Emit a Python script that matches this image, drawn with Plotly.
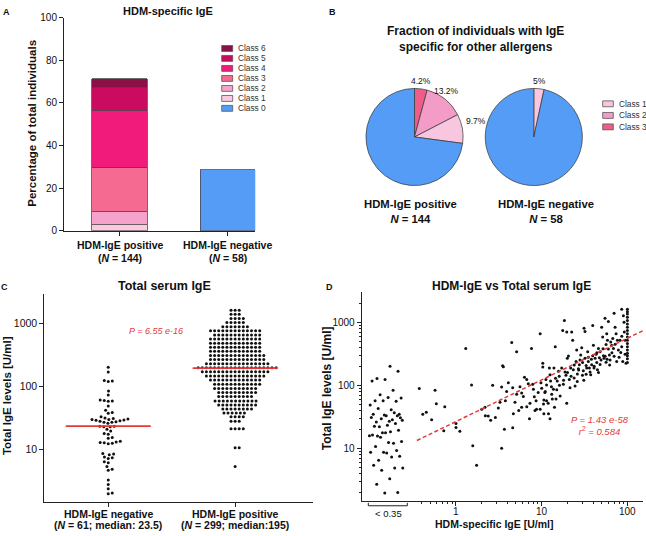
import math
import numpy as np
import plotly.graph_objects as go

W, H = 646, 536

# ---------------- DATA ----------------
# Panel A: HDM-specific IgE classes (% of total individuals)
a_cat_line1 = ["HDM-IgE positive", "HDM-IgE negative"]
a_cat_line2 = ["(<i>N</i> = 144)", "(<i>N</i> = 58)"]
a_class_names = ["Class 1", "Class 2", "Class 3", "Class 4", "Class 5", "Class 6"]
a_pos_class_pct = [2.8, 6.1, 20.9, 26.6, 10.8, 4.1]
a_neg_class0_pct = [28.7]
a_yticks = [0, 20, 40, 60, 80, 100]

# Panel B: IgE specific for other allergens
b_pos_labels = ["Class 3", "Class 2", "Class 1", "Class 0"]
b_pos_values = [4.2, 13.2, 9.7, 72.9]
b_pos_text = ["4.2%", "13.2%", "9.7%", ""]
b_neg_labels = ["Class 1", "Class 0"]
b_neg_values = [3.4, 96.6]
b_neg_text = ["5%", ""]
b_captions = ["HDM-IgE positive<br><i>N</i> = 144", "HDM-IgE negative<br><i>N</i> = 58"]

# Panel C: total serum IgE [U/ml]
c_cat_line1 = ["HDM-IgE negative", "HDM-IgE positive"]
c_cat_line2 = ["(<i>N</i> = 61; median: 23.5)", "(<i>N</i> = 299; median:195)"]
c_neg_values = [201, 169, 124, 122, 120, 84.5, 73, 61, 60, 59, 58, 49, 42, 38.5, 37.5, 33,
                31.5, 31, 30.5, 30, 30, 29.5, 29, 28.5, 28, 27.5, 27, 27, 26, 23.5, 23.5, 23,
                23, 21, 19.7, 17.9, 17.5, 15.5, 15.1, 13.5, 13.2, 13, 12.8, 12.6, 12.4, 8.7,
                8.5, 8.3, 7.6, 7.4, 7.2, 6.4, 6.2, 5.4, 4.9, 4.7, 3.3, 2.8, 2.4, 2.05, 2.0]
# positive group: value rows and number of individuals in each row
c_pos_levels = [1611, 1387, 1194, 1026, 883, 760, 654, 563, 484, 417, 359, 309, 266, 229,
                197, 170, 146, 126, 108, 93, 80, 69, 59, 51, 44, 38, 33, 28, 21.3, 10.7, 5.4]
c_pos_counts = [3, 3, 4, 5, 7, 13, 12, 13, 13, 13, 13, 14, 14, 16,
                20, 17, 15, 13, 12, 11, 10, 9, 11, 10, 8, 6, 4, 3, 4, 2, 1]
c_medians = [23.5, 195]
c_ptext = "<i>P = 6.55 e-16</i>"

# Panel D: HDM-specific IgE vs total IgE
d_pairs = [(0.373, 89), (0.41, 35), (0.45, 37.6), (0.57, 84), (0.59, 51), (0.52, 28.6),
           (0.74, 46), (0.72, 19), (1.0, 24.8), (1.0, 21.4), (1.11, 18.8), (1.3, 384),
           (1.52, 101), (1.57, 11), (1.74, 5.4), (2.0, 42), (2.18, 45), (2.2, 33),
           (2.38, 32.6), (2.54, 27.9), (2.68, 100), (2.88, 31), (3.12, 43.9), (3.26, 53.8),
           (3.41, 94), (3.5, 205), (3.57, 197), (3.41, 10.1), (3.67, 20.2), (3.77, 57),
           (3.9, 80), (4.08, 110), (4.47, 477), (4.59, 21.2), (4.67, 35.4), (4.88, 53.8),
           (5.1, 342), (5.4, 40), (5.58, 95), (5.84, 76), (6.1, 66.7), (6.3, 135),
           (6.7, 124), (6.7, 46), (6.98, 106), (7.3, 51.9), (7.2, 29.6), (7.6, 384),
           (7.85, 104), (8.0, 87), (8.2, 65.9), (8.6, 57), (8.7, 42), (9.1, 77),
           (9.6, 659), (9.8, 110), (10, 90), (10.3, 225), (10.3, 195), (10.5, 50.7),
           (10.6, 58.5), (10.9, 77), (11.2, 124), (11.4, 101), (11.4, 57), (11.9, 51.9),
           (12, 35.4), (12.3, 188), (12.5, 148), (12.7, 117), (13.1, 72.5), (13.3, 60.6),
           (13.7, 87), (13.9, 188), (14.1, 45), (14.4, 408), (14.7, 60.6), (15.2, 117),
           (15.7, 167), (16.1, 100), (16.4, 68), (17.1, 188), (17.6, 741), (17.9, 104),
           (18.4, 1062), (18.7, 163), (19.2, 145), (19.6, 700), (19.6, 51.9), (19.9, 269),
           (20.5, 292), (21, 124), (21.4, 92), (21.8, 188), (22.4, 700), (23, 519),
           (23.4, 177), (23.9, 131), (24.5, 98), (25.2, 239), (25.6, 363), (26.1, 152),
           (26.8, 184), (27.5, 212), (28, 253), (28.5, 303), (29.3, 394), (29.9, 145),
           (30.6, 171), (31.2, 807), (32, 716), (32, 269), (33, 207), (33.5, 188),
           (34.4, 342), (35, 239), (36, 188), (36.7, 163), (37.3, 148), (38.3, 212),
           (39.4, 887), (39.4, 296), (40.1, 434), (40.8, 188), (42, 269), (43.1, 311),
           (43.9, 231), (44.7, 177), (45.9, 384), (47.1, 275), (48, 342), (49.3, 253),
           (50.1, 836), (51.5, 585), (52.5, 296), (53.4, 269), (54.8, 1154), (56.4, 444),
           (56.4, 233), (57.4, 659), (58.5, 519), (60, 1024), (60, 376), (61.6, 303),
           (62.8, 253), (63.9, 489), (65.6, 434), (67.4, 551), (68.7, 384), (69.9, 1396),
           (71.8, 836), (73.8, 659), (75, 239), (76.4, 519), (78.5, 363), (82, 519),
           (83.6, 333), (85.9, 1610), (85.9, 408), (88.3, 239), (89.8, 1270), (91.4, 1000),
           (94, 519), (94, 311), (96.4, 225), (8.36, 40), (9.6, 42), (10.6, 35.4),
           (12.5, 29.6), (4.59, 92), (5.1, 72.5), (5.84, 45), (11, 80), (13, 95),
           (14.5, 130), (15, 85), (16, 140), (18, 120), (20, 160), (22, 140), (24, 210),
           (26, 115), (27, 175), (30, 230), (31, 120), (33, 150), (35, 280), (38, 260),
           (41, 200), (44, 330), (46, 160), (48, 215), (52, 380), (55, 290), (58, 260),
           (62, 210), (66, 330), (70, 290), (72, 450), (80, 280), (86, 600), (92, 700)]
d_capped_hdm = 100
d_capped_total = [1611, 1465, 1349, 1196, 1062, 942, 836, 742, 659, 585, 519, 460, 408,
                  363, 322, 296, 263, 231]
d_below_total = [200, 129, 167, 124, 117, 84, 71, 63, 64, 57, 56, 57, 49, 41, 43, 35, 33,
                 35, 36.7, 29.7, 28, 27, 26.3, 33, 34, 31, 28.6, 22, 30.7, 23.3, 22.5, 24.8,
                 17.7, 15.9, 18.4, 15.7, 19.5, 17.7, 16.3, 12.1, 15, 12.9, 12.4, 10.7, 9.3,
                 8.7, 8.7, 7.3, 6.5, 7.5, 8.5, 5.4, 4.9, 4.5, 4.9, 3.3, 2.7, 2.0, 1.97]
d_cutoff = 0.35
d_xticks = [1, 10, 100]
d_fit_slope = 0.66          # log10(total) per log10(HDM)
d_fit_intercept = 1.427     # log10(total) at HDM = 1 U/ml
d_stats_text = "<i>P = 1.43 e-58</i><br><i>r</i><sup>2</sup><i> = 0.584</i>"

# ---------------- STYLE ----------------
FONT = "Liberation Sans, Arial, Helvetica, sans-serif"
INK = "#111111"
AX = "#222222"
RED = "#E5383B"
BLUE = "#559CF6"
a_colors = ["#F9CAE1", "#F6A3CB", "#F46A90", "#F01B7B", "#CB0B5F", "#8B1046"]
b_colors = {"Class 0": BLUE, "Class 1": "#F8C6DF", "Class 2": "#F39CC8", "Class 3": "#EE5C8A"}
DOT = 3.0


def px(xp):
    return xp / W


def py(yp):
    return 1 - yp / H


# axis geometry (pixels)
A_X_DOM, A_X_RNG = (64, 255.2), (-0.514, 1.255)
A_Y_DOM = (230, 13)
C_X_DOM, C_X_RNG = (44.3, 313), (-0.504, 1.614)
C_Y_DOM, C_Y_RNG = (506, 295), (0.177, 3.455)
D_X_DOM, D_X_RNG = (361.7, 643), (-1.100, 2.182)
D_Y_DOM, D_Y_RNG = (505, 292.7), (0.174, 3.476)

fig = go.Figure()

# ---------------- Panel A ----------------
for name, val, col in zip(a_class_names, a_pos_class_pct, a_colors):
    fig.add_trace(go.Bar(x=[0], y=[val], name=name, width=0.51,
                         marker=dict(color=col, line=dict(color="#4a4a4a", width=0.8)),
                         xaxis="x", yaxis="y", showlegend=False))
fig.add_trace(go.Bar(x=[1], y=a_neg_class0_pct, name="Class 0", width=0.51,
                     marker=dict(color=BLUE, line=dict(color="#4a4a4a", width=0.8)),
                     xaxis="x", yaxis="y", showlegend=False))

# ---------------- Panel B (pies) ----------------
PIE_R = 49.5
pie_specs = [
    (b_pos_labels, b_pos_values, b_pos_text, (365, 464), (85, 184)),
    (b_neg_labels, b_neg_values, b_neg_text, (484.3, 583.3), (85, 184)),
]
annotations = []
for labels, values, texts, (x0, x1), (y0, y1) in pie_specs:
    fig.add_trace(go.Pie(labels=labels, values=values, sort=False, direction="clockwise",
                         rotation=0, textinfo="none", hoverinfo="label+percent",
                         marker=dict(colors=[b_colors[l] for l in labels],
                                     line=dict(color="#333333", width=0.7)),
                         domain=dict(x=[px(x0), px(x1)], y=[py(y1), py(y0)]),
                         showlegend=False))
    cx, cy = (x0 + x1) / 2, (y0 + y1) / 2
    total = float(sum(values))
    cum = 0.0
    for v, t in zip(values, texts):
        mid = (cum + v / 2) / total
        cum += v
        if not t:
            continue
        th = 2 * math.pi * mid
        lx = cx + (PIE_R + 1) * math.sin(th)
        ly = cy - (PIE_R + 1) * math.cos(th)
        annotations.append(dict(x=px(lx), y=py(ly), xref="paper", yref="paper", text=t,
                                showarrow=False, xanchor="left" if math.sin(th) > 0.9 else "center",
                                yanchor="bottom", font=dict(size=8.5, color=INK)))

# ---------------- Panel C (beeswarm) ----------------
c_xpx = (C_X_DOM[1] - C_X_DOM[0]) / (C_X_RNG[1] - C_X_RNG[0])
c_ypx = (C_Y_DOM[0] - C_Y_DOM[1]) / (C_Y_RNG[1] - C_Y_RNG[0])


def beeswarm(vals, ypx, d):
    vals = np.asarray(vals, dtype=float)
    ys = np.log10(vals) * ypx
    order = np.argsort(vals, kind="stable")
    xs = np.zeros(len(vals))
    placed = []
    for idx in order:
        y = ys[idx]
        near = [(qx, qy) for (qx, qy) in placed if abs(qy - y) < d]
        cands = [0.0]
        for qx, qy in near:
            dx = math.sqrt(max(d * d - (qy - y) ** 2, 0.0))
            cands += [qx + dx, qx - dx]
        cands.sort(key=lambda c: (round(abs(c), 6), -c))
        for c in cands:
            if all((c - qx) ** 2 + (y - qy) ** 2 >= d * d - 1e-6 for qx, qy in near):
                xs[idx] = c
                break
        placed.append((xs[idx], y))
    return xs


c_pos_values = np.repeat(np.array(c_pos_levels, dtype=float), c_pos_counts)
for cat, vals in ((0, c_neg_values), (1, c_pos_values)):
    off = beeswarm(vals, c_ypx, 4.1)
    fig.add_trace(go.Scatter(x=cat + off / c_xpx, y=vals, mode="markers",
                             marker=dict(size=DOT, color=INK), xaxis="x3", yaxis="y3",
                             showlegend=False, hoverinfo="y"))
for cat, med in enumerate(c_medians):
    fig.add_trace(go.Scatter(x=[cat - 0.335, cat + 0.335], y=[med, med], mode="lines",
                             line=dict(color=RED, width=1.6), xaxis="x3", yaxis="y3",
                             showlegend=False, hoverinfo="skip"))

# ---------------- Panel D ----------------
d_hdm = [p[0] for p in d_pairs] + [d_capped_hdm] * len(d_capped_total)
d_tot = [p[1] for p in d_pairs] + d_capped_total
fig.add_trace(go.Scatter(x=d_hdm, y=d_tot, mode="markers", marker=dict(size=DOT, color=INK),
                         xaxis="x4", yaxis="y4", showlegend=False))
# strip for values below detection limit (spread horizontally inside the < 0.35 band)
lo, hi = -1.015, -0.618
strip_x = [10 ** (lo + (hi - lo) * (((i + 1) * 0.6180339887) % 1.0)) for i in range(len(d_below_total))]
fig.add_trace(go.Scatter(x=strip_x, y=d_below_total, mode="markers",
                         marker=dict(size=DOT, color=INK), xaxis="x4", yaxis="y4",
                         showlegend=False))
fit_x = [d_cutoff, 10 ** D_X_RNG[1]]
fit_y = [10 ** (d_fit_intercept + d_fit_slope * math.log10(v)) for v in fit_x]
fig.add_trace(go.Scatter(x=fit_x, y=fit_y, mode="lines",
                         line=dict(color=RED, width=1.5, dash="4px,2.5px"),
                         xaxis="x4", yaxis="y4", showlegend=False, hoverinfo="skip"))

# ---------------- Layout ----------------
axis_common = dict(showline=True, linecolor=AX, linewidth=1, ticks="outside", ticklen=4,
                   tickwidth=1, tickcolor=AX, showgrid=False, zeroline=False,
                   tickfont=dict(size=10, color=INK, family=FONT))
minor_style = dict(ticks="outside", ticklen=2, tickwidth=0.8, tickcolor=AX)

layout = dict(
    width=W, height=H, margin=dict(l=0, r=0, t=0, b=0, pad=0),
    paper_bgcolor="white", plot_bgcolor="rgba(0,0,0,0)", barmode="stack",
    showlegend=False, font=dict(family=FONT, color=INK),
    xaxis=dict(axis_common, domain=[px(A_X_DOM[0]), px(A_X_DOM[1])], range=list(A_X_RNG),
               tickvals=[0, 1], showticklabels=False, anchor="y"),
    yaxis=dict(axis_common, domain=[py(A_Y_DOM[0]), py(A_Y_DOM[1])], range=[0, 100],
               tickvals=a_yticks, anchor="x"),
    xaxis3=dict(axis_common, domain=[px(C_X_DOM[0]), px(C_X_DOM[1])], range=list(C_X_RNG),
                tickvals=[0, 1], showticklabels=False, anchor="y3"),
    yaxis3=dict(axis_common, type="log", domain=[py(C_Y_DOM[0]), py(C_Y_DOM[1])],
                range=list(C_Y_RNG), tickvals=[10, 100, 1000], ticktext=["10", "100", "1000"],
                anchor="x3", tickfont=dict(size=10.5, color=INK, family=FONT)),
    xaxis4=dict(axis_common, type="log", domain=[px(D_X_DOM[0]), px(D_X_DOM[1])],
                range=list(D_X_RNG), tickvals=d_xticks, showticklabels=False,
                anchor="y4",
                minor=dict(minor_style, tickvals=[0.4, 0.5, 0.6, 0.7, 0.8, 0.9, 2, 3, 4, 5, 6, 7, 8, 9,
                                                  20, 30, 40, 50, 60, 70, 80, 90])),
    yaxis4=dict(axis_common, type="log", domain=[py(D_Y_DOM[0]), py(D_Y_DOM[1])],
                range=list(D_Y_RNG), tickvals=[10, 100, 1000], ticktext=["10", "100", "1000"],
                anchor="x4",
                minor=dict(minor_style, tickvals=[2, 3, 4, 5, 6, 7, 8, 9, 20, 30, 40, 50, 60, 70, 80, 90,
                                                  200, 300, 400, 500, 600, 700, 800, 900, 2000])),
)

shapes = []
# dotted cut-off line in D
shapes.append(dict(type="line", xref="x4", yref="y4 domain", x0=math.log10(d_cutoff),
                   x1=math.log10(d_cutoff), y0=0, y1=1,
                   line=dict(color="#444444", width=1, dash="dot")))
# bracket under "< 0.35"
shapes.append(dict(type="path", xref="paper", yref="paper",
                   path="M {a},{b} L {a},{c} L {d},{c} L {d},{b}".format(
                       a=px(368.3), b=py(507.3), c=py(510.3), d=px(407.3)),
                   line=dict(color=AX, width=1)))


# manual legends
def legend_block(names, colors, box_x, ys, text_x, fsize):
    for n, c, yc in zip(names, colors, ys):
        shapes.append(dict(type="rect", xref="paper", yref="paper",
                           x0=px(box_x[0]), x1=px(box_x[1]), y0=py(yc + 3), y1=py(yc - 3),
                           fillcolor=c, line=dict(color="#555555", width=0.8)))
        annotations.append(dict(x=px(text_x), y=py(yc), xref="paper", yref="paper", text=n,
                                showarrow=False, xanchor="left", yanchor="middle",
                                font=dict(size=fsize, color="#333333")))


a_leg_names = ["Class 6", "Class 5", "Class 4", "Class 3", "Class 2", "Class 1", "Class 0"]
a_leg_colors = a_colors[::-1] + [BLUE]
legend_block(a_leg_names, a_leg_colors, (221.7, 232.7),
             [44.3, 54.4, 64.6, 74.8, 85.0, 95.2, 105.3], 236, 8.3)
legend_block(["Class 1", "Class 2", "Class 3"],
             [b_colors["Class 1"], b_colors["Class 2"], b_colors["Class 3"]],
             (602.7, 613.3), [100.7, 112.5, 124.2], 617.2, 8.3)


def text(xp, yp, t, size, bold=False, color=INK, angle=0, xanchor="center", xref="paper"):
    annotations.append(dict(x=xp if xref != "paper" else px(xp), y=py(yp), xref=xref,
                            yref="paper", text=t,
                            showarrow=False, xanchor=xanchor, yanchor="middle",
                            textangle=angle,
                            font=dict(size=size, color=color, family=FONT,
                                      weight="bold" if bold else "normal")))


# category labels (two lines, under the ticks)
for i, (l1, l2) in enumerate(zip(a_cat_line1, a_cat_line2)):
    text(i, 245, l1, 10.5, bold=True, xref="x")
    text(i, 257.5, l2, 10.5, bold=True, xref="x")
for i, (l1, l2) in enumerate(zip(c_cat_line1, c_cat_line2)):
    text(i, 518.3, l1, 10.5, bold=True, xref="x3")
    text(i, 530, l2, 10.5, bold=True, xref="x3")
for v in d_xticks:
    text(math.log10(v), 516, str(v), 10, xref="x4")

# panel letters
text(6, 7, "A", 9, bold=True)
text(332, 7, "B", 9, bold=True)
text(4, 287, "C", 9, bold=True)
text(329, 287, "D", 9, bold=True)
# titles
text(168, 6, "HDM-specific IgE", 11, bold=True)
text(475, 35, "Fraction of individuals with IgE<br>specific for other allergens", 12, bold=True)
text(164, 286, "Total serum IgE", 12.5, bold=True)
text(511, 286, "HDM-IgE vs Total serum IgE", 12, bold=True)
# axis titles
text(32, 121, "Percentage of total individuals", 11.5, bold=True, angle=-90)
text(6.5, 398, "Total IgE levels [U/ml]", 11.5, bold=True, angle=-90)
text(326.5, 390, "Total IgE levels [U/ml]", 12, bold=True, angle=-90)
text(494, 528.5, "HDM-specific IgE [U/ml]", 10.5, bold=True)
text(388, 518.5, "&lt; 0.35", 9.5)
# pie captions
text(410, 210.5, b_captions[0], 11.3, bold=True)
text(546, 210.5, b_captions[1], 11.3, bold=True)
# statistics
text(156, 332, c_ptext, 9, color=RED)
text(600, 428.5, d_stats_text, 9.5, color=RED)

layout["shapes"] = shapes
layout["annotations"] = annotations
fig.update_layout(**layout)
fig.write_html("out.html", config={"displayModeBar": False},
               post_script="document.body.style.margin='0px';document.body.style.padding='0px';")
